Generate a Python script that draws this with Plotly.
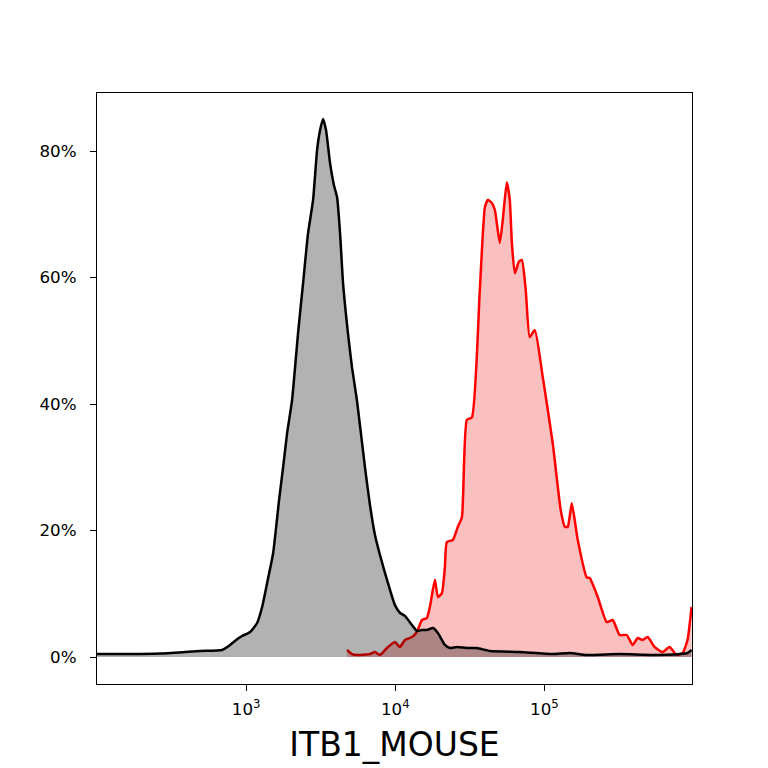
import plotly.graph_objects as go

# isotype control (black / grey fill)
ctrl_x = [100, 167, 265, 390, 492, 691, 781, 857, 940, 1064, 1185, 1280, 1383, 1517,
          1663, 1770, 1883, 2032, 2229, 2409, 2602, 2812, 2992, 3132, 3281, 3436, 3655,
          3882, 4074, 4266, 4467, 4819, 5129, 5534, 6266, 6772, 7311, 7907, 8531, 9226,
          9954, 10740, 11610, 12940, 13970, 15100, 16300, 17900, 19320, 20550, 21520,
          23230, 25880, 30200, 35240, 43060, 68390, 113800, 147900, 192300, 319900,
          532100, 807200, 912000, 970800]
ctrl_pct = [0.47, 0.47, 0.55, 0.79, 0.95, 1.11, 1.9, 2.69, 3.32, 3.95, 5.38, 7.91, 11.7,
            16.4, 24.8, 30.0, 35.4, 40.6, 51.2, 59.1, 67.0, 72.3, 80.2, 83.3, 85.1, 83.3,
            78.1, 74.6, 72.7, 67.0, 59.1, 51.2, 45.8, 40.6, 30.0, 24.0, 19.3, 16.1, 13.3,
            10.6, 8.2, 7.0, 6.5, 5.06, 4.11, 4.27, 4.27, 4.58, 3.79, 2.69, 1.9, 1.42,
            1.58, 1.42, 1.42, 0.95, 0.79, 0.47, 0.63, 0.32, 0.47, 0.32, 0.47, 0.63, 1.11]

# ITB1_MOUSE stained sample (red)
stain_x = [4750, 5129, 5534, 6772, 7311, 7907, 8795, 9954, 10740, 11610, 12940, 13970,
           15100, 16300, 17070, 18450, 19320, 20550, 21520, 22190, 24330, 26300, 27990,
           30200, 32660, 36900, 39900, 41780, 44460, 46560, 50230, 52600, 55980, 58610,
           60530, 63390, 67450, 70630, 75010, 79800, 86300, 97500, 113800, 128800,
           137100, 143500, 152700, 167400, 192300, 201400, 228000, 261800, 287100,
           319900, 356500, 390800, 422700, 456000, 493200, 548300, 620900, 691800,
           770900, 845300, 912000, 970800]
stain_pct = [1.11, 0.47, 0.32, 0.47, 0.79, 0.32, 1.42, 2.37, 1.58, 2.69, 3.16, 3.95,
             5.85, 6.17, 7.91, 12.2, 9.49, 10.1, 14.2, 18.2, 18.5, 20.6, 22.1, 37.5,
             37.9, 58.0, 71.1, 72.3, 71.8, 70.7, 65.5, 69.1, 75.1, 72.3, 65.5, 60.7,
             62.5, 62.8, 58.0, 50.6, 51.7, 44.3, 33.8, 23.2, 20.6, 20.6, 24.3, 18.5,
             12.6, 12.5, 9.49, 5.53, 5.85, 3.48, 3.48, 1.9, 3.0, 2.69, 3.16, 1.58, 0.79,
             1.58, 0.32, 0.63, 2.69, 7.91]

x_ticks = [1000, 10000, 100000]
x_tick_text = ["10<sup>3</sup>", "10<sup>4</sup>", "10<sup>5</sup>"]
y_ticks = [0, 20, 40, 60, 80]
y_tick_text = ["0%", "20%", "40%", "60%", "80%"]

fig = go.Figure()
fig.add_trace(go.Scatter(
    x=stain_x, y=stain_pct, mode="lines", fill="tozeroy",
    fillcolor="rgba(235,0,0,0.25)",
    line=dict(color="#ff0000", width=2.5, shape="spline", smoothing=0.5),
    showlegend=False))
fig.add_trace(go.Scatter(
    x=ctrl_x, y=ctrl_pct, mode="lines", fill="tozeroy",
    fillcolor="rgba(0,0,0,0.3)",
    line=dict(color="#000000", width=2.5, shape="spline", smoothing=0.5),
    showlegend=False))

axis_common = dict(showline=True, linecolor="black", linewidth=1.3, mirror=True,
                   showgrid=False, zeroline=False, ticks="outside", ticklen=6,
                   tickwidth=1.3, tickcolor="black",
                   tickfont=dict(family="DejaVu Sans", size=16.7, color="black"))

# page is offset by ~8px in the browser, so margins are trimmed on the left/top
fig.update_layout(
    width=768, height=768,
    margin=dict(l=89, r=84, t=85, b=92),
    paper_bgcolor="white", plot_bgcolor="white",
    xaxis=dict(type="log", range=[2.0, 5.99], tickvals=x_ticks, ticktext=x_tick_text,
               ticklabelstandoff=4,
               title=dict(text="ITB1_MOUSE", standoff=14,
                          font=dict(family="DejaVu Sans", size=33, color="black")),
               **axis_common),
    yaxis=dict(range=[-4.27, 89.2], tickvals=y_ticks, ticktext=y_tick_text,
               ticklabelstandoff=10,
               **axis_common),
)

fig.write_html("out.html")
